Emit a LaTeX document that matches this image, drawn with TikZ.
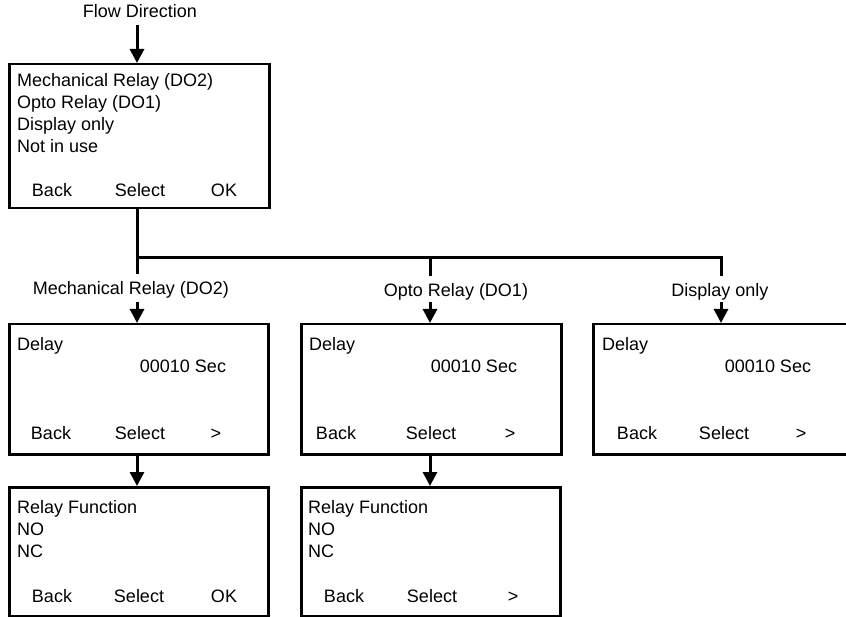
\documentclass[tikz,border=0pt]{standalone}
\usepackage{fontspec}
\setmainfont{Liberation Sans}
\usetikzlibrary{arrows.meta}
\begin{document}
\begin{tikzpicture}[x=1pt,y=-1pt,
  every node/.style={font=\fontsize{18}{20}\selectfont},
  screen/.style={draw,line width=2.5pt,rectangle,anchor=north west,inner sep=0pt,minimum width=#1,minimum height=130pt},
  screen/.default=259pt,
  txt/.style={anchor=base west,inner sep=0pt},
  ctxt/.style={anchor=base,inner sep=0pt},
  conn/.style={line width=3pt},
  arr/.style={line width=3pt,-{Triangle[width=14pt,length=14pt]}}]
\useasboundingbox (0,0) rectangle (846,617);
\fill[white] (0,0) rectangle (846,617);
% top label and arrow
\node[ctxt] (flow) at (140,18) {Flow Direction};
\coordinate (fs) at (137,25);
% top box
\node[screen,minimum width=260pt,minimum height=144pt] (top) at (8,63) {};
\draw[arr] (fs) -- (top.north -| fs);
\node[txt] (t1) at (17,87) {Mechanical Relay (DO2)};
\node[txt] (t2) at (17,109) {Opto Relay (DO1)};
\node[txt] (t3) at (17,131) {Display only};
\node[txt] (t4) at (17,153) {Not in use};
\node[ctxt] (tb1) at (52,197) {Back};
\node[ctxt] (tb2) at (140,197) {Select};
\node[ctxt] (tb3) at (224,197) {OK};
% branching
\coordinate (j1) at (137,258);
\coordinate (j2) at (430,258);
\coordinate (j3) at (721,258);
\coordinate (e1) at (137,274);
\coordinate (e2) at (430,276);
\coordinate (e3) at (721,276);
\draw[conn] (top.south -| j1) -- (j1) -- (j3) -- (e3);
\draw[conn] (j1) -- (e1);
\draw[conn] (j2) -- (e2);
\node[ctxt] (l1) at (131,295) {Mechanical Relay (DO2)};
\node[ctxt] (l2) at (456,297) {Opto Relay (DO1)};
\node[ctxt] (l3) at (720,297) {Display only};
\coordinate (s1) at (137,302);
\coordinate (s2) at (430,302);
\coordinate (s3) at (721,302);
% middle row
\node[screen] (d1) at (8,323) {};
\node[screen,minimum width=260pt] (d2) at (300,323) {};
\node[screen,minimum width=262pt] (d3) at (592,323) {};
\draw[arr] (s1) -- (s1 |- d1.north);
\draw[arr] (s2) -- (s2 |- d2.north);
\draw[arr] (s3) -- (s3 |- d3.north);
\node[txt] (d1a) at (17,351) {Delay};
\node[ctxt] (d1b) at (183,373) {00010 Sec};
\node[ctxt] (d1c) at (51,439) {Back};
\node[ctxt] (d1d) at (140,439) {Select};
\node[ctxt] (d1e) at (216,439) {>};
\node[txt] (d2a) at (309,351) {Delay};
\node[ctxt] (d2b) at (474,373) {00010 Sec};
\node[ctxt] (d2c) at (336,439) {Back};
\node[ctxt] (d2d) at (431,439) {Select};
\node[ctxt] (d2e) at (510,439) {>};
\node[txt] (d3a) at (602,351) {Delay};
\node[ctxt] (d3b) at (768,373) {00010 Sec};
\node[ctxt] (d3c) at (637,439) {Back};
\node[ctxt] (d3d) at (724,439) {Select};
\node[ctxt] (d3e) at (801,439) {>};
% bottom row
\node[screen,minimum height=129pt] (r1) at (8,486) {};
\node[screen,minimum width=259pt,minimum height=129pt] (r2) at (300,486) {};
\draw[arr] (d1.south -| s1) -- (r1.north -| s1);
\draw[arr] (d2.south -| s2) -- (r2.north -| s2);
\node[txt] (r1a) at (17,513) {Relay Function};
\node[txt] (r1b) at (17,535) {NO};
\node[txt] (r1c) at (17,557) {NC};
\node[ctxt] (r1d) at (52,602) {Back};
\node[ctxt] (r1e) at (139,602) {Select};
\node[ctxt] (r1f) at (224,602) {OK};
\node[txt] (r2a) at (308,513) {Relay Function};
\node[txt] (r2b) at (308,535) {NO};
\node[txt] (r2c) at (308,557) {NC};
\node[ctxt] (r2d) at (344,602) {Back};
\node[ctxt] (r2e) at (432,602) {Select};
\node[ctxt] (r2f) at (513,602) {>};
\end{tikzpicture}
\end{document}
